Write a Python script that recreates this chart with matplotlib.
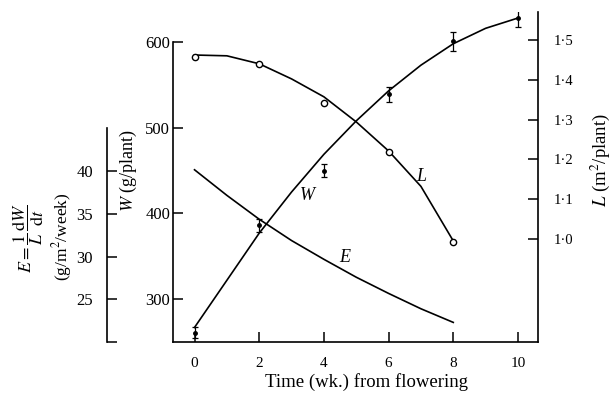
import numpy as np
import matplotlib
matplotlib.use('Agg')
import matplotlib.pyplot as plt
from matplotlib.ticker import FuncFormatter

plt.rcParams['font.family'] = ['Liberation Serif', 'DejaVu Serif']
plt.rcParams['mathtext.fontset'] = 'stix'

# weeks from flowering
weeks = [0, 2, 4, 6, 8, 10]

# W (g/plant): measured points with error bars
w_obs = [261, 386, 450, 539, 601, 628]
w_err = [6, 8, 8, 9, 11, 11]

# L (m2/plant): measured points (open circles)
l_weeks = [0, 2, 4, 6, 8]
l_obs = [1.457, 1.440, 1.342, 1.219, 0.992]

# fitted curves, one value per week
curve_weeks_w = [0, 1, 2, 3, 4, 5, 6, 7, 8, 9, 10]
w_curve = [267, 322, 377, 425, 469, 508, 543, 573, 598, 616, 628]

curve_weeks_l = [0, 1, 2, 3, 4, 5, 6, 7, 8]
l_curve = [1.462, 1.460, 1.440, 1.402, 1.357, 1.294, 1.221, 1.132, 0.995]

curve_weeks_e = [0, 1, 2, 3, 4, 5, 6, 7, 8]
e_curve = [40.2, 37.2, 34.4, 31.9, 29.7, 27.6, 25.7, 23.9, 22.3]

lw = 1.2
fig = plt.figure(figsize=(6.12, 3.97), dpi=100)
ax = fig.add_axes([0.2827, 0.1385, 0.5964, 0.8312])
ax_l = ax.twinx()
ax_e = ax.twinx()

# W axis (main)
ax.plot(curve_weeks_w, w_curve, color='black', lw=lw)
ax.errorbar(weeks, w_obs, yerr=w_err, fmt='o', color='black', ms=2.5,
            capsize=2.5, elinewidth=0.9, capthick=0.9)
ax.set_xlim(-0.665, 10.62)
ax.set_ylim(250, 635)
ax.set_xticks(weeks)
ax.set_yticks([300, 400, 500, 600])
ax.spines['top'].set_visible(False)
ax.spines['right'].set_visible(False)
ax.spines['left'].set_bounds(250, 600)
for s in ['left', 'bottom']:
    ax.spines[s].set_linewidth(1.2)
ax.tick_params(axis='y', direction='in', length=7, width=1.1, pad=2, labelsize=12)
ax.tick_params(axis='x', direction='in', length=7, width=1.1, pad=11, labelsize=11)
ax.set_xlabel('Time (wk.) from flowering', fontsize=13.5)
ax.xaxis.set_label_coords(0.53, -0.093)
ax.text(-0.123, 0.52, r'$W$ (g/plant)', transform=ax.transAxes, rotation=90,
        ha='center', va='center', fontsize=13)
ax.text(3.48, 421, 'W', style='italic', fontsize=13, ha='center', va='center')

# L axis (right)
ax_l.plot(curve_weeks_l, l_curve, color='black', lw=lw)
ax_l.plot(l_weeks, l_obs, 'o', mfc='white', mec='black', ms=4.5, mew=1.0)
ax_l.set_ylim(0.741, 1.570)
ax_l.set_yticks([1.0, 1.1, 1.2, 1.3, 1.4, 1.5])
ax_l.yaxis.set_major_formatter(FuncFormatter(lambda v, p: f'{v:.1f}'.replace('.', '\u00b7')))
for s in ['top', 'left', 'bottom']:
    ax_l.spines[s].set_visible(False)
ax_l.spines['right'].set_linewidth(1.2)
ax_l.tick_params(axis='y', direction='in', length=7, width=1.1, pad=11, labelsize=10.5)
ax_l.text(1.17, 0.55, r'$L$ (m$^2$/plant)', transform=ax_l.transAxes, rotation=90,
          ha='center', va='center', fontsize=13.5)
ax_l.text(7.0, 1.158, 'L', style='italic', fontsize=13, ha='center', va='center')

# E axis (offset left)
ax_e.plot(curve_weeks_e, e_curve, color='black', lw=lw)
ax_e.set_ylim(20, 58.7)
ax_e.yaxis.set_ticks_position('left')
ax_e.yaxis.set_label_position('left')
ax_e.spines['left'].set_position(('axes', -0.1808))
ax_e.spines['left'].set_visible(True)
ax_e.spines['left'].set_bounds(20, 45.1)
ax_e.spines['left'].set_linewidth(1.2)
for s in ['top', 'right', 'bottom']:
    ax_e.spines[s].set_visible(False)
ax_e.set_yticks([20, 25, 30, 35, 40])
ax_e.set_yticklabels(['', '25', '30', '35', '40'])
ax_e.tick_params(axis='y', direction='in', length=7, width=1.1, pad=10, labelsize=12)
ax_e.text(4.65, 29.9, 'E', style='italic', fontsize=13, ha='center', va='center')

fig.text(28 / 612, 1 - 238 / 397,
         r'$E=\dfrac{1}{L}\,\dfrac{\mathrm{d}W}{\mathrm{d}t}$',
         rotation=90, ha='center', va='center', fontsize=13)
fig.text(62 / 612, 1 - 237 / 397, '(g/m$^2$/week)', rotation=90,
         ha='center', va='center', fontsize=12.5)

fig.savefig('out.png', dpi=100)
